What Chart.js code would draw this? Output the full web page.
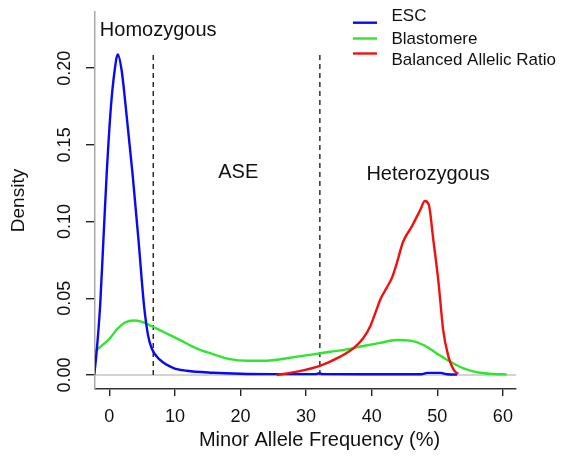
<!DOCTYPE html>
<html>
<head>
<meta charset="utf-8">
<script src="https://cdn.jsdelivr.net/npm/chart.js@4.4.1/dist/chart.umd.min.js"></script>
<style>
  html, body { margin: 0; padding: 0; background: #fff; }
  #wrap { width: 563px; height: 463px; }
</style>
</head>
<body>
<div id="wrap"><canvas id="chart" width="563" height="463"></canvas></div>
<script>
    'use strict';

    // minor allele frequency (%) / density
    var escX = [-2.3, -2.0, -1.4, -0.9, -0.4, 0.25, 0.8, 1.3, 1.9, 2.5, 3.55, 4.45, 5.3, 5.9, 6.5, 7.7, 9.8, 11.8, 15.8, 20, 25, 31.5, 32, 32.5, 40, 47.5, 48.5, 50.5, 51.5, 53];
    var escY = [0.000, 0.012, 0.045, 0.088, 0.131, 0.175, 0.198, 0.209, 0.198, 0.175, 0.131, 0.088, 0.045, 0.026, 0.017, 0.010, 0.0045, 0.0028, 0.0015, 0.0008, 0.0006, 0.0006, 0.0012, 0.0006, 0.0005, 0.0005, 0.0014, 0.0014, 0.0005, 0.0003];

    var blastX = [-2.3, -1.2, 0, 1.2, 2.4, 3.7, 5.0, 6.5, 8.2, 10.8, 13.3, 15.9, 18.4, 21, 23.5, 26, 28.6, 31.1, 33.7, 36.2, 38.7, 41.3, 43.8, 45.9, 47.9, 49.9, 51.5, 54, 56.5, 58.5, 60.6];
    var blastY = [0.0148, 0.019, 0.0235, 0.030, 0.0342, 0.0355, 0.0346, 0.0318, 0.0282, 0.0228, 0.0174, 0.0135, 0.0104, 0.0093, 0.0093, 0.0102, 0.012, 0.0135, 0.0152, 0.0167, 0.0189, 0.021, 0.0228, 0.0224, 0.0196, 0.0141, 0.0098, 0.0044, 0.0015, 0.0007, 0.0004];

    var balX = [25.5, 28.6, 32.1, 35.2, 37.2, 38.7, 39.8, 40.6, 41.4, 42.3, 43.1, 43.8, 44.8, 46.1, 47.4, 48.1, 48.7, 49.4, 50.2, 50.9, 51.7, 52.5, 53.2];
    var balY = [0.0, 0.0022, 0.006, 0.012, 0.0174, 0.024, 0.032, 0.041, 0.050, 0.057, 0.0635, 0.0725, 0.087, 0.0967, 0.1076, 0.1134, 0.111, 0.088, 0.0598, 0.0293, 0.012, 0.0033, 0.0007];

    var seriesNames = ['ESC', 'Blastomere', 'Balanced Allelic Ratio'];
    var seriesColors = ['#0a0aee', '#2ee62e', '#f01010'];

    // ASE cut-offs (dashed lines)
    var cutoffs = [6.7, 32.1];
    var cutoffTop = 0.21;

    var xTicks = [0, 10, 20, 30, 40, 50, 60];
    var yTicks = [0, 0.05, 0.10, 0.15, 0.20];
    var xRange = [-2.18, 62.0];
    var yRange = [-0.0091, 0.2366];

    // region labels: [text, x, y]
    var regionLabels = [
        ['Homozygous', 7.45, 0.2243],
        ['ASE', 19.66, 0.1317],
        ['Heterozygous', 48.6, 0.131]
    ];

    var FONT = "'Liberation Sans', Arial, Helvetica, sans-serif";
    Chart.defaults.font.family = FONT;
    Chart.defaults.color = '#111';

    function toPoints(xs, ys) {
        return xs.map(function(x, i) {
            return { x: x, y: ys[i] };
        });
    }

    var datasets = [
        {
            label: seriesNames[2],
            data: toPoints(balX, balY),
            borderColor: seriesColors[2],
            order: 1
        },
        {
            label: seriesNames[0],
            data: toPoints(escX, escY),
            borderColor: seriesColors[0],
            order: 2
        },
        {
            label: seriesNames[1],
            data: toPoints(blastX, blastY),
            borderColor: seriesColors[1],
            order: 3
        }
    ];
    datasets.forEach(function(ds) {
        ds.borderWidth = 2.4;
        ds.pointRadius = 0;
        ds.cubicInterpolationMode = 'monotone';
        ds.fill = false;
    });

    cutoffs.forEach(function(c) {
        datasets.push({
            label: 'cutoff',
            data: [{ x: c, y: 0 }, { x: c, y: cutoffTop }],
            borderColor: '#222',
            borderWidth: 1.4,
            borderDash: [5, 4],
            pointRadius: 0,
            order: 4
        });
    });

    // zero line like R's density plot
    datasets.push({
        label: 'zero',
        data: [{ x: xRange[0], y: 0 }, { x: xRange[1], y: 0 }],
        borderColor: '#c4c4c4',
        borderWidth: 1.5,
        pointRadius: 0,
        order: 5
    });

    var textPlugin = {
        id: 'textPlugin',
        afterDatasetsDraw: function(chart) {
            var ctx = chart.ctx;
            var xs = chart.scales.x;
            var ys = chart.scales.y;
            var area = chart.chartArea;
            ctx.save();
            ctx.fillStyle = '#111';
            ctx.textBaseline = 'middle';

            // region labels
            ctx.font = '20px ' + FONT;
            ctx.textAlign = 'center';
            regionLabels.forEach(function(r) {
                ctx.fillText(r[0], xs.getPixelForValue(r[1]), ys.getPixelForValue(r[2]));
            });

            // x axis title, centred on the figure's plot region
            ctx.font = '20px ' + FONT;
            ctx.fillText('Minor Allele Frequency (%)', (area.left + area.right) / 2 + 14, 440);

            // legend
            var order = [0, 1, 2];
            var lineY = [22.7, 38.5, 53.5];
            var textY = [16.8, 39, 60.8];
            ctx.font = '17px ' + FONT;
            ctx.textAlign = 'left';
            order.forEach(function(k, i) {
                ctx.strokeStyle = seriesColors[k];
                ctx.lineWidth = 2.4;
                ctx.beginPath();
                ctx.moveTo(353, lineY[i]);
                ctx.lineTo(377, lineY[i]);
                ctx.stroke();
                ctx.fillText(seriesNames[k], 391.5, textY[i]);
            });
            ctx.restore();
        }
    };

    new Chart(document.getElementById('chart'), {
        type: 'line',
        data: { datasets: datasets },
        plugins: [textPlugin],
        options: {
            responsive: false,
            animation: false,
            layout: { padding: { top: 12, right: 47, left: 0, bottom: 0 } },
            plugins: {
                legend: { display: false },
                tooltip: { enabled: false }
            },
            scales: {
                x: {
                    type: 'linear',
                    min: xRange[0],
                    max: xRange[1],
                    afterBuildTicks: function(scale) {
                        scale.ticks = xTicks.map(function(v) { return { value: v }; });
                    },
                    afterFit: function(scale) {
                        scale.height = 74;
                        scale.paddingLeft = 0;
                        scale.paddingRight = 0;
                    },
                    ticks: {
                        font: { size: 18 },
                        color: '#111',
                        padding: 10,
                        maxRotation: 0,
                        callback: function(v) { return String(v); }
                    },
                    grid: {
                        drawOnChartArea: false,
                        tickLength: 7,
                        tickColor: '#222',
                        lineWidth: 1.4
                    },
                    border: { color: '#333', width: 1.5 },
                    title: { display: false }
                },
                y: {
                    min: yRange[0],
                    max: yRange[1],
                    afterBuildTicks: function(scale) {
                        scale.ticks = yTicks.map(function(v) { return { value: v }; });
                    },
                    afterFit: function(scale) {
                        scale.width = 95;
                        scale.paddingTop = 0;
                        scale.paddingBottom = 0;
                    },
                    ticks: {
                        font: { size: 18 },
                        color: '#111',
                        padding: 3,
                        minRotation: 90,
                        maxRotation: 90,
                        crossAlign: 'center',
                        callback: function(v) { return v.toFixed(2); }
                    },
                    grid: {
                        drawOnChartArea: false,
                        tickLength: 9,
                        tickColor: '#222',
                        lineWidth: 1.4
                    },
                    border: { color: '#a8a8a8', width: 1.5 },
                    title: {
                        display: true,
                        text: 'Density',
                        font: { size: 19 },
                        color: '#111',
                        padding: { top: 7, bottom: 0 }
                    }
                }
            }
        }
    });
</script>
</body>
</html>
